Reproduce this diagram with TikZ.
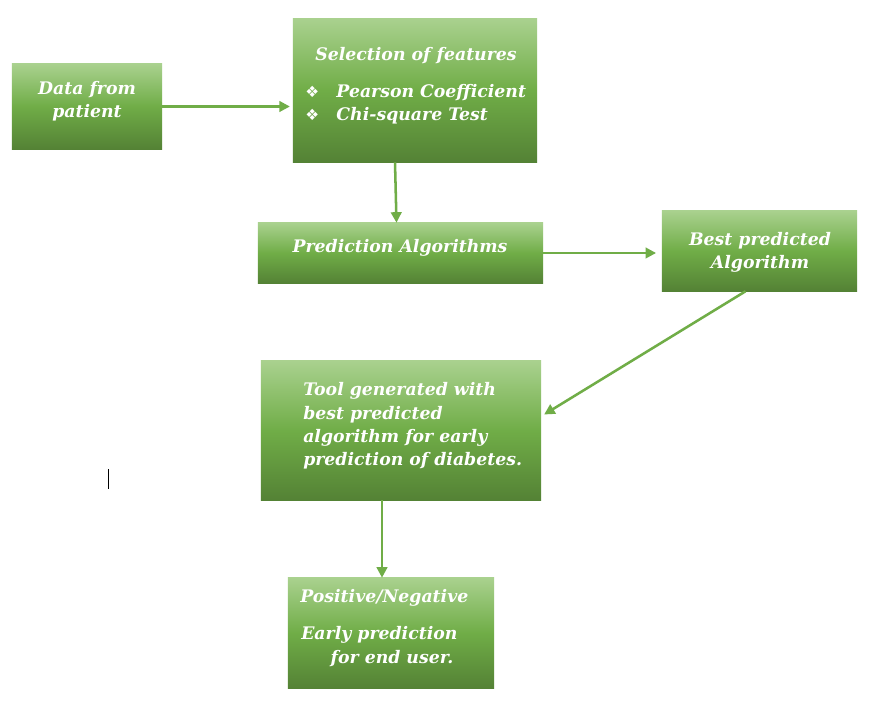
\documentclass[tikz,border=0pt]{standalone}
\usepackage{fontspec}
\newfontfamily\boxfont{DejaVu Serif}
\newfontfamily\symfont{DejaVu Sans}
\usetikzlibrary{positioning}
\usetikzlibrary{arrows.meta}
\definecolor{gtop}{RGB}{169,209,142}
\definecolor{gmid}{RGB}{112,173,71}
\definecolor{gbot}{RGB}{84,130,53}
\definecolor{arrowg}{RGB}{112,173,71}
\newcommand{\bulletsym}{{\symfont\fontsize{11}{16.5}\selectfont ❖}}
\tikzset{
    mybox/.style = {rectangle, inner sep=0pt, top color=gtop, bottom color=gbot, middle color=gmid},
    mytext/.style = {inner sep=0pt, text=white, font=\boxfont\bfseries\itshape\fontsize{12.3}{16.5}\selectfont},
    edgeg/.style = {-{Triangle[length=7.5pt,width=7.5pt]}, line width=1.8pt, arrowg},
}

\begin{document}
\begin{tikzpicture}[x=0.025cm, y=-0.025cm]
\useasboundingbox[fill=white] (0,0) rectangle (880,707);

% boxes
\node[mybox, minimum width=3.75cm, minimum height=2.125cm] at (87, 106.5) (patient) {};
\node[mybox, minimum width=6.1cm, minimum height=3.575cm] at (415, 90.5) (features) {};
\node[mybox, minimum width=7.125cm, minimum height=1.5cm] at (400.5, 253) (algos) {};
\node[mybox, minimum width=4.875cm, minimum height=2.0cm] at (759.5, 251) (best) {};
\node[mybox, minimum width=7.0cm, minimum height=3.475cm] at (401, 430.5) (tool) {};
\node[mybox, minimum width=5.15cm, minimum height=2.75cm] at (391, 633) (result) {};

% texts
\node[mytext, align=center] at (87, 101.5) (patient-txt) {Data from\\patient};
\node[mytext] at (416, 56) (features-txt) {Selection of features};
\node[mytext, align=left, anchor=west] at (305, 104) (features-list)
    {\bulletsym\hspace{1.0em}Pearson Coefficient\\
     \bulletsym\hspace{1.0em}Chi-square Test};
\node[mytext] at (400, 248) (algos-txt) {Prediction Algorithms};
\node[mytext, align=center] at (760, 252.5) (best-txt) {Best predicted\\Algorithm};
\node[mytext, align=left, anchor=west] at (303, 426) (tool-txt)
    {Tool generated with\\best predicted\\algorithm for early\\prediction of diabetes.};
\node[mytext, anchor=west] at (300, 598) (result-txt) {Positive/Negative};
\node[mytext, align=left, anchor=west] at (301, 646.5) (result-sub)
    {Early prediction\\\hspace*{1.7em}for end user.};

% connectors
\draw[edgeg] (patient.east) -- ([xshift=-2pt]features.west |- patient.east);
\draw[edgeg] ([xshift=-0.5cm]features.south) -- ([xshift=-0.1cm]algos.north);
\draw[edgeg] (algos.east) -- ([xshift=-4pt]best.west |- algos.east);
\draw[edgeg] ([xshift=-0.35cm]best.south) -- ([xshift=2pt, yshift=0.4cm]tool.east);
\draw[edgeg] ([xshift=-0.475cm]tool.south) -- ([xshift=-0.475cm]tool.south |- result.north);

% cursor mark
\draw[black, line width=0.6pt] (108, 469) -- (108, 489);
\end{tikzpicture}
\end{document}
